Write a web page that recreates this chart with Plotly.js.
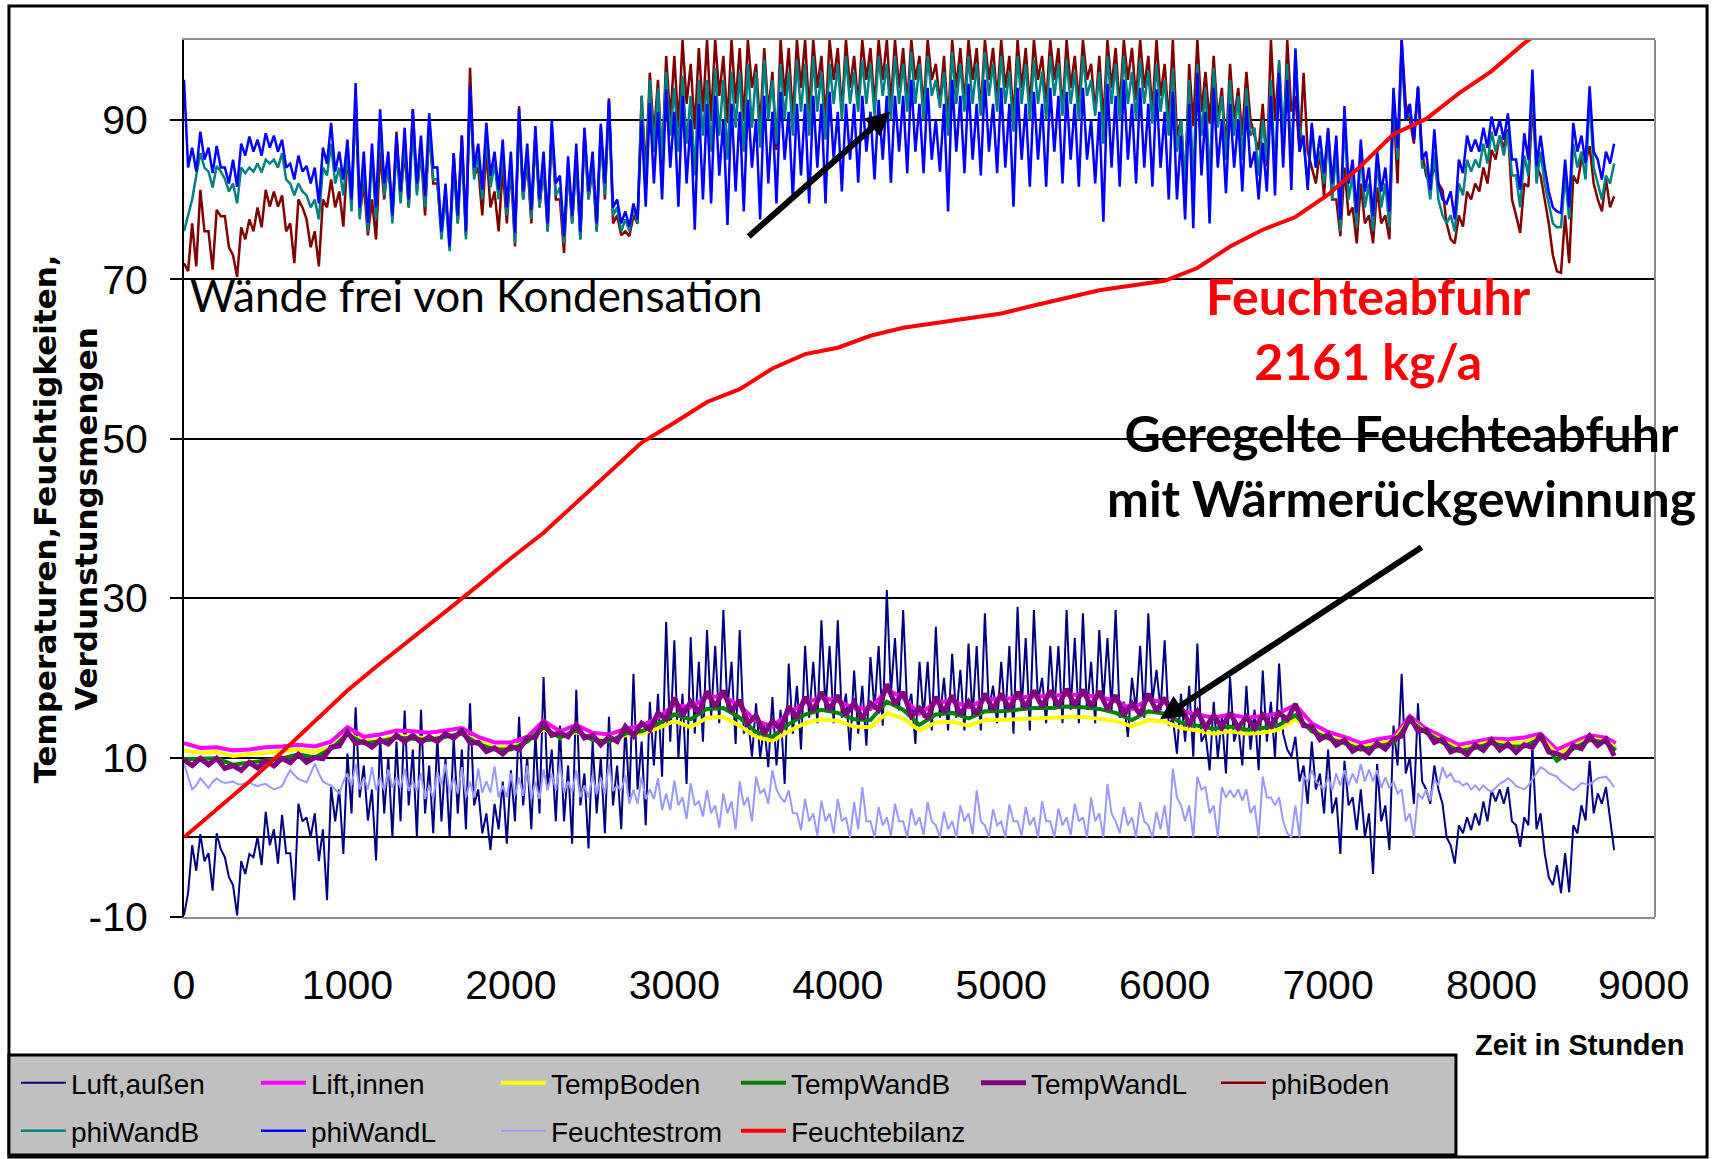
<!DOCTYPE html>
<html><head><meta charset="utf-8">
<script src="https://cdn.plot.ly/plotly-3.0.1.min.js"></script>
<style>html,body{margin:0;padding:0;background:#fff}#chart{width:1713px;height:1159px}</style>
</head><body><div id="chart"></div>
<script>
// ---- Data ----
// 25 h sampling (0 ... 8750): noisy series, alternating upper / lower readings
const luftAussen = [
-9.8,-7,-1,-4.2,0.4,-3,-2,-6.7,0.5,-1.5,-2.5,-5,-6,-9.8,-3,-4.6,-2.1,-2.5,0,-3.5,3.2,-1,1,-3.3,2.8,-2,-2,-7.9,4.2,2,2.5,0,3,-3,1,-7.9,6.3,2,6,-2.1,
10.5,3,16.3,5,9,2.1,6,-2.9,12.6,3,10,0,12,2,15.9,4,11,0,16,3,9,0.5,12.6,2,10,0,12.5,3,11,1,16.8,4,6,0.5,3,-1.6,4.2,1,7,-0.8,
8.4,2,15.1,4,10,1,13,3,20.1,6,11,2,14,2,9,-0.8,18.5,4,8,-1.4,12,3,10,0.5,15.1,4,9,1,14,5,20.5,6,12,1.5,17,9,18,7.6,27,12,
24.7,10,18,6.7,25.1,13,22,12,26,15,24,14.3,28.5,16,22,11.7,26,13,15,10.1,16.8,10,14,8.8,17.6,9,16,6.7,21.8,13,19,11,24,15,22,14.3,27.2,16,24,14.3,
27.2,15,18,10.9,20.9,13,19,11.5,22.6,16,24,14,31,18,25,15.9,28.5,16,18,11.7,22,15,22,13.4,26.4,15,20,13.4,23,15,21,13.4,24.3,15,24,13.4,28.1,16,19,14.3,
22,15,24,13,28.9,16,25,13.4,28.5,17,20,14.3,24,16,24,14.3,28.5,16,25,14.3,28.1,16,22,14.3,26,17,25,15.9,28.5,15,17,12.6,20,16,24,15,28.1,17,21,15.9,
24.7,14,15,10.5,18,12,19,10.1,24.3,12,13,8.4,17,10,15,8,20.1,12,14,9,19,11,16,8.4,20.9,12,17,10,21.8,13,11,10.1,12.6,7,9,4.2,12,6,8,3,
11,3,5,-2.1,9.6,4,5,0.9,6,0,3,-4.6,9.2,2,4,-1.6,14,9,20.5,8,10,4.2,16.8,7,6,4.2,9,6,4.2,0,-1,-3.3,1.5,0.5,2.5,0.9,3,1.5,4.5,2,
5.9,4.5,6,4.2,6.3,2,1.5,-1.2,2.5,1.5,11.3,1,3,-2,-5,-6,-3.5,-7,-2,-6.9,1.5,0.5,4,2.1,9.6,3,5.5,4.2,6.3,2,-1.6];

const phiBoden = [
72,71,77,71.6,81.2,76,76,71.2,78.7,77.9,77.9,74,73,70.3,76.5,75,77.5,76,79,76.5,81.2,79.1,81,79.1,80.5,76,77,72,80,79,77.5,74,76,71.6,80,79,82.5,79,81,76.6,
85.4,80,92,78,82,75.5,80,75,86,80,85,78,88.5,80,86,79,91.3,81,86,78,88.8,82,82,76,80,75,85.8,77,88,75.5,96.5,83,84,78,86.2,79,81,76,84,77,
84,74.1,91.7,80,85,77,88,79,84,76,89,80,80,73.3,84,77,85,75,88.5,80,84,76,89,80,92.7,77,78,75.5,76,75.4,78,77,93,83.3,95.9,88,95,84,98,90,
98,89,100,92,97,88.8,99,91,100,90,100,93,98,89.6,100,92,99,90,100,94,97,89,99,91,96,86.2,100,93,99,90,100,94,100,91,100,94,98,90,100,95,
99,91,100,94,98,92,100,95,99,91.7,100,95,100,92,100,94,99,92,100,95,98,91.5,100,95,97,92,98,89.6,100,94,99,92,100,95,99,91,100,95,99,92.5,
100,94,98,90,100,94,99,91.5,100,95,98,92,100,95,99,91,100,94,98,92,100,95,97,91,98,89.6,100,94,99,91.5,100,95,99,92.5,100,94,98,91,100,93,
97,89.6,100,88,90,81.2,97,89.2,100,91,96,89.5,98,90,94,86.2,97,90,94,88,96,90,88,86.2,92,84.2,100,90,97,85.4,100,91,93,86,95.9,86,84,82,86,80.4,
89,80,80,75.4,84,78,79,74.5,82,77,78,74.5,81.5,77,78,75,92,82,100,92,90,87,94,86,83,82,84.2,82,81.2,77,75,74.5,78,76.6,81,80,82,81,84,82,
86.2,85,88,86.5,88.8,80,78,75.8,82,81.6,92,84.2,83,80,77,73,71,70.8,78,72,83,82,85,84.6,86.7,82,80,78.5,82.5,79,80.4];

const phiWandB = [
76,78,80,83,85.8,84,83.5,81.5,84.2,83.5,82.6,81,82,79.5,84,83.3,84,83.5,84.5,83.4,85,84.5,85,84,85.8,82.5,82,80.5,82,81,80.5,79,80,77.5,84,83,87,82,84,80.5,
86,78.5,93,77.5,84.5,76,85.5,77.5,89.5,80.5,84.5,77,86.5,79.5,87.5,79,89.5,80.5,86.5,79,89,82.5,82.5,75,80.5,73.5,84,77,86.5,75,93.5,82.5,85.5,80,88,81.5,84.5,80,86,78,
84.5,74.5,90,80,85.5,77.5,88,79,84.5,76,89,80.5,81.5,74.5,84,77,85.5,75,88,80,84.5,76,88.5,80.5,92,78,79,76,77.5,76,79,77,93,81,95,86,94,85,96,88,
94,86,95.5,87,93,83,95,88,95,86,96.5,88,95,85,96,89,96,86,97,89,96,86.5,97.5,90,95,87,97,90,96,88,97.5,91,97,88,98,91,96,87.5,97,92,
97,90,98,92,96,91,97.5,92,97,90.5,98,93,97,90,98,92,97,91,98.5,92,97,90,98,93,95,91.5,96,88,98.5,92,97,91,98,92,97,90.5,98.5,93,97,91,
98,92,96,88.5,98,92,97,90,97.5,92,96,90,98,93,97,90.5,97.5,92,96,90,98,93,95,90.5,96,87,98,92,97,90,98,92,96,90,97.5,92,96,89.5,97,91,
95,88,96.5,86,90,82,95,82,97,88,94,82,96.5,89,93,85,95,88,93,85,94,88,89,83,90,85,95,83,97.5,88,97,84,99,89,87,82,89,84,86,82,
88,80,86,76,90,80,83,76.5,86,79,82,76,85,79,82,76.5,93,85,98.5,90,91,88,94,84,84,80,86,80,78,77,78,76,82,80.5,85,83.5,85,84,87,84.5,
88.5,86,88,85.5,88.5,83,83,79,85.5,83,95,82,86,82,79.5,77,76.5,76.5,83,77.5,87,84,86,82.5,92.5,84,82,80,83,82,84.5];

const phiWandL = [
95,84,86.5,83.5,88.5,85,86.5,83.3,86.7,84,84,82,85,81.6,87,85.5,87.9,86,87.5,85.5,88.3,86.5,88,86,87.5,84,84.5,82.5,85.5,83.5,84.2,82,84,79.5,86.5,84.5,89.6,83.5,86,82.5,
87.5,80,94.6,79,86,77.1,87,79,91.3,82,86,78,88,81,89,80,91.3,82,88,80.4,90.8,84,84,76,82,74.1,85.8,78,88,76,94.2,84,87,81.2,89.6,83,86,81.2,87.5,79,
86,75.8,91.3,81,87,78.7,89.2,80,86,77,90,82,83,75.4,85.4,78,87,76,89,81,86,77,89.5,82,92.5,79,80,77,78.5,76.6,79.5,77.5,90,79.1,92.1,82,91,80,93.8,84,
91,79.1,93,82,90,76.2,92,80,92,79.5,93,83,90,76.8,92,81,91,78.5,92.5,84,90,77.5,93,82,91,79.5,93.5,85,91,80,92,83,92,79.5,93,84,92,79.5,93.5,85,
91,81,92,85,92,82.1,93,86,91,82.5,92.5,85,93,82.1,93,86,93,83.3,95,86,92,83.3,94,85,90,83.5,92,78.5,95,86,93,83.3,94.5,85,92,83,95,86,92,83.3,
94,84,92,79.1,94,85,92,81.6,93.5,85,92,81.6,94,86,93,82,93.5,85,92,81.6,94,85,90,82,91,77.2,94.5,84,93,81.6,95,85,92,82,94,84,92,81.6,93.8,84,
91,80,93.5,80,88,77.5,92,76.4,95.9,83,91,77,94,84,90,80.8,92,84,90,81,91.7,84,86,80,87.1,81,93,80.5,95.9,84,95,81.2,98.8,86,88,81.2,89.6,84,88,83.3,
88.8,82,88,77.5,91.7,82,85,78.3,87.5,81,84,77.9,86.2,81,84,78.5,94,86.5,100,90,92,87.5,94.2,85,86,81.2,88.8,82,80,79.5,81,77.5,85,83.3,88,86,87.5,86,89,86.5,
90.4,88,90,87.5,90.8,85,85,81.2,88.3,85,96.3,84.2,88,84,81,79,78.5,78.3,85,79,89.6,86,88,84.6,94.2,86,85,82.5,86,84.5,87];

const feuchtestrom = [
9.2,7.5,6.0,6.5,7.4,6.8,6.2,6.9,7.4,7.0,6.8,6.9,7.0,6.7,6.6,6.8,6.9,6.6,6.4,6.6,6.7,6.3,6.0,6.2,6.4,7.5,8.4,7.8,7.3,7.1,6.9,8.0,9.2,8.0,7.0,6.7,6.5,6.0,5.5,7.0,
8,6.5,9.2,6,7.5,6,8.8,5.9,7.5,5.9,8.5,6.2,7.5,6.2,8.6,5.8,7,5.8,8,4.8,6.5,4.8,8.2,6.5,9.2,5.5,7.5,5.5,8.8,5,7,5,8.6,5.6,7,5.6,8.9,5,6.5,5,
8,5.2,7.5,5.2,9,4.8,7,4.8,8.5,5.9,8,5.9,9.2,5.6,7,5.6,8.4,5,6.5,5,7.8,5.4,7.5,5.4,9.2,5.8,6.5,5.8,7.8,4.2,6,4.2,7.6,4.8,6,4.8,7.4,3.4,5.5,3.4,
7.1,4,5,2.3,6.8,4,4.5,2.6,5.9,3,4,1.2,5.5,3,4.5,1,7,4,5,2,7.6,5.5,6,4.2,8.4,6,5,4.4,5.9,3,3,0.9,4.8,2,3,0.2,4.6,2,3,0.5,
4.8,2,2.5,0,4.4,1,6.3,2,2,0,3.8,1.5,2.5,0.2,4.2,2,2,0,3.6,1.5,2.5,0.3,4.4,2,1.5,0,3.2,1,2,0,4,2,3,0.4,5.9,2,1.5,0,3.5,1.5,
2,0,4.1,2,2,0.2,3.8,1.5,2.5,0,4.5,2,2,0,3.6,1.5,2.5,0.3,4.2,2,2.5,0,5,2,3,0,6.7,3,2,0.5,3.8,1.5,2.5,0,4.4,2,1.5,0,3.2,1,
4,0,8.6,5,4,2,4,0,7.6,6,6.3,3,4,0,6.3,5,5.9,5,6,4.6,6,3,4,0,7.6,5,5,4,5,2,0.5,0,4,0,7.6,7,8.4,7,6.5,6,
7.5,5.9,8,6.5,8.4,6.5,8,6.8,9.2,7,8.5,7,8.4,6.2,7.5,6.2,7,5.5,6,2,3,0,5.5,4.8,6,4.6,7.2,6.5,8.8,7.5,8,7,7,6.5,6.8,6,6.5,5.9,6.5,6,
5.7,6.2,6.7,7,7.4,7,6.4,6.2,6.0,6.5,7.2,8,8.8,8.5,8.0,7.8,7.6,7,6.6,6.2,5.9,6.3,6.8,6.7,6.6,7,7.4,7.5,7.6,7,6.3];

// 50 h sampling (0 ... 8750): upper / lower edge of the TempWandL band
const tempWandL = [
9.7,9.0,9.9,9.1,9.9,8.65,9.0,8.4,9.4,8.7,9.6,8.95,9.9,9.35,10.4,9.4,10.0,9.85,11.3,11.45,
13.2,11.8,12.0,11.3,12.2,11.7,12.8,12.0,12.8,11.9,12.6,12.0,13.0,12.4,13.4,11.85,11.9,10.75,11.2,10.45,
11.4,11.0,12.5,12.5,14.5,12.8,13.1,12.6,14.1,12.45,12.8,11.6,12.6,12.0,13.9,12.7,14.3,13.5,15.6,14.8,
17.5,15.25,17.0,15.65,18.3,16.35,18.4,15.8,17.2,14.25,15.3,12.95,14.6,13.5,16.4,15.0,17.6,15.9,18.2,16.0,
17.8,15.35,16.9,14.85,16.8,16.0,19.2,16.7,18.2,15.2,16.2,14.9,17.6,15.7,17.8,15.4,17.0,15.5,18.0,16.0,
18.0,16.1,18.2,16.3,18.4,16.4,18.4,16.5,18.6,16.55,18.5,16.4,18.3,16.05,17.8,15.3,16.8,15.4,18.0,15.8,
17.5,15.1,16.3,14.25,15.8,13.75,15.3,13.8,15.6,13.75,15.1,13.7,15.3,14.0,15.6,14.75,16.7,14.0,13.9,12.25,
12.9,11.55,12.2,10.8,11.4,10.6,11.8,11.05,12.3,12.7,15.1,13.3,13.5,11.9,12.3,10.7,11.1,10.35,11.6,10.9,
12.2,10.95,11.7,10.65,11.6,11.25,12.9,10.7,10.5,10.0,11.5,11.1,12.7,11.5,12.3,10.2];

// 100 h sampling (0 ... 8700, last value = hour 8760)
const liftInnen = [
11.8,11.2,11.3,10.9,11.0,11.3,11.4,11.6,11.4,12.0,
13.8,12.6,12.9,13.4,13.3,13.1,13.4,13.7,12.6,11.9,
11.9,12.6,14.6,13.3,14.1,13.1,12.9,13.6,14.0,15.0,
16.6,16.3,17.6,17.7,16.5,14.6,13.9,15.6,16.9,17.5,
17.1,16.2,16.1,18.5,17.5,15.5,16.9,17.1,16.3,17.3,
17.3,17.5,17.7,17.7,17.9,17.8,17.6,17.1,16.1,17.3,
16.9,15.8,15.4,15.0,15.4,15.0,15.2,15.6,16.6,14.3,
13.2,12.6,11.8,12.3,12.6,15.2,13.6,12.6,11.6,12.0,
12.4,12.3,12.5,13.0,11.0,11.9,12.8,12.5,11.8];

const tempBoden = [
10.9,10.6,10.7,10.2,10.4,10.6,10.8,11.0,10.7,11.3,
13.0,12.0,12.2,12.7,12.6,12.4,12.7,13.0,12.0,11.3,
11.3,12.0,13.6,12.5,13.2,12.3,12.2,12.8,13.0,13.7,
14.6,13.8,15.0,15.1,14.0,12.6,12.1,13.3,14.3,14.8,
14.6,13.9,13.8,15.6,14.9,13.4,14.4,14.5,14.0,14.7,
14.7,14.8,15.0,15.0,15.1,15.1,14.9,14.6,13.9,14.7,
14.5,13.7,13.4,13.0,13.3,13.0,13.1,13.5,14.8,13.5,
12.6,12.1,11.3,11.7,12.1,14.8,13.2,12.1,11.1,11.5,
12.0,11.8,11.9,12.6,10.4,11.4,12.4,12.1,11.2];

const tempWandB = [
9.8,9.9,9.9,9.1,9.4,9.6,9.9,10.4,10.0,11.1,
12.9,11.8,12.0,12.5,12.4,12.2,12.6,13.0,11.7,11.0,
11.0,12.0,13.8,12.5,13.4,12.2,12.0,13.0,13.3,14.2,
15.4,14.8,16.1,16.2,15.0,13.2,12.6,14.2,15.4,16.0,
15.6,14.8,14.7,17.0,16.0,14.1,15.4,15.6,14.9,15.8,
15.8,16.0,16.2,16.2,16.4,16.3,16.1,15.6,14.7,15.8,
15.5,14.4,14.0,13.6,13.9,13.5,13.7,14.1,15.3,13.3,
12.4,11.8,11.0,11.4,11.8,14.6,13.1,11.9,10.8,11.2,
11.8,11.4,11.4,12.4,9.6,11.1,12.2,11.9,10.9];

// 200 h sampling (0 ... 8600)
const feuchtebilanz = [0,3.5,7,10.7,14.5,18.4,21.8,25,28.3,31.6,35,38.2,42,45.7,49.5,52,54.6,56.2,58.8,60.6,
61.4,62.9,63.9,64.5,65.1,65.7,66.7,67.7,68.6,69.2,69.8,71.4,74.1,76.2,77.8,80.6,84.2,88.2,90.1,93.3,96.1,99.6,102.5,105.5];

const seriesNames = ['Luft,außen','Lift,innen','TempBoden','TempWandB','TempWandL','phiBoden','phiWandB','phiWandL','Feuchtestrom','Feuchtebilanz'];
const xTicks = [0,1000,2000,3000,4000,5000,6000,7000,8000,9000];
const xTickText = ['0','1000','2000','3000','4000','5000','6000','7000','8000','9000\u00a0\u00a0'];
const yTicks = [-10,10,30,50,70,90];

// ---- Build ----
const h25 = luftAussen.map((_, i) => i * 25);
const h50 = tempWandL.map((_, i) => i * 50);
const h100 = liftInnen.map((_, i) => Math.min(i * 100, 8760));
const h200 = feuchtebilanz.map((_, i) => i * 200);

function tr(name, x, y, color, width, legend) {
  return {type:'scatter', mode:'lines', name:name, x:x, y:y,
    line:{color:color, width:width}, legend:legend, hoverinfo:'skip'};
}
const data = [
  tr(seriesNames[0], h25, luftAussen, '#000080', 2, 'legend'),
  tr(seriesNames[1], h100, liftInnen, '#ff00ff', 4, 'legend'),
  tr(seriesNames[2], h100, tempBoden, '#ffff00', 4, 'legend'),
  tr(seriesNames[3], h100, tempWandB, '#008000', 4, 'legend'),
  tr(seriesNames[4], h50, tempWandL, '#800080', 5, 'legend'),
  tr(seriesNames[5], h25, phiBoden, '#800000', 2.5, 'legend'),
  tr(seriesNames[6], h25, phiWandB, '#008080', 2.5, 'legend2'),
  tr(seriesNames[7], h25, phiWandL, '#0000ff', 2.5, 'legend2'),
  tr(seriesNames[8], h25, feuchtestrom, '#9999ff', 2, 'legend2'),
  tr(seriesNames[9], h200, feuchtebilanz, '#ff0000', 4, 'legend2')
];

const tickFont = {family:'Liberation Sans, Arial, sans-serif', size:41, color:'#000'};
const legFont = {family:'Liberation Sans, Arial, sans-serif', size:28, color:'#000'};
const legBase = {orientation:'h', xref:'container', yref:'container', xanchor:'left', yanchor:'middle',
  bgcolor:'rgba(0,0,0,0)', borderwidth:0, font:legFont, entrywidth:180, itemwidth:45, traceorder:'normal'};

const layout = {
  width:1713, height:1159,
  margin:{l:184, r:58, t:40, b:242},
  paper_bgcolor:'#ffffff', plot_bgcolor:'#ffffff',
  showlegend:true,
  legend: Object.assign({}, legBase, {x:0.0093, y:(1159-1083)/1159}),
  legend2: Object.assign({}, legBase, {x:0.0093, y:(1159-1131)/1159}),
  xaxis:{range:[0,9000], tickvals:xTicks, ticktext:xTickText, tickfont:tickFont,
    showgrid:false, zeroline:false, showline:true, linecolor:'#8c8c8c', linewidth:2, mirror:true,
    ticks:'', ticklabelstandoff:31, ticklabeloverflow:'allow'},
  yaxis:{range:[-10,100], tickvals:yTicks, ticktext:yTicks.map(String), tickfont:tickFont,
    showgrid:true, gridcolor:'#000', gridwidth:2, zeroline:true, zerolinecolor:'#000', zerolinewidth:2,
    showline:true, linecolor:'#000', linewidth:2, ticks:'outside', ticklen:12, tickwidth:2, tickcolor:'#000',
    ticklabelstandoff:14},
  shapes:[
    {type:'line', xref:'paper', yref:'paper', x0:1, x1:1, y0:0, y1:1, line:{color:'#8c8c8c', width:2}},
    {type:'rect', xref:'paper', yref:'paper', x0:-0.119, x1:1.0354, y0:-0.2737, y1:1.0388, line:{color:'#000', width:3}, layer:'below'},
    {type:'rect', xref:'paper', yref:'paper', x0:-0.119, x1:0.8647, y0:-0.2714, y1:-0.1574, fillcolor:'#c0c0c0', line:{color:'#000', width:3}, layer:'above'}
  ],
  annotations:[
    {xref:'paper', yref:'paper', x:-0.0806, y:0.4538, xanchor:'center', yanchor:'middle', textangle:-90, showarrow:false,
     text:'Temperaturen,Feuchtigkeiten,<br>Verdunstungsmengen', align:'center',
     font:{family:'DejaVu Sans, sans-serif', size:31, color:'#000', weight:'bold'}},
    {xref:'paper', yref:'paper', x:0.949, y:-0.146, xanchor:'center', yanchor:'middle', showarrow:false, text:'<b>Zeit in Stunden</b>',
     font:{family:'Liberation Sans, Arial, sans-serif', size:29, color:'#000'}},
    {xref:'x', yref:'y', x:25, y:68.0, xanchor:'left', yanchor:'middle', showarrow:false,
     text:'Wände frei von Kondensation', font:{family:'Lato, sans-serif', size:44, color:'#000'}},
    {xref:'x', yref:'y', x:7245, y:63.8, xanchor:'center', yanchor:'middle', showarrow:false,
     text:'<b>Feuchteabfuhr<br>2161 kg/a</b>', font:{family:'Lato, sans-serif', size:50, color:'#ff0000'}},
    {xref:'x', yref:'y', x:7447, y:46.6, xanchor:'center', yanchor:'middle', showarrow:false,
     text:'<b>Geregelte Feuchteabfuhr<br>mit Wärmerückgewinnung</b>', font:{family:'Lato, sans-serif', size:50, color:'#000'}},
    {xref:'x', yref:'y', axref:'x', ayref:'y', x:4321, y:91.0, ax:3446, ay:75.2, text:'', showarrow:true,
     arrowhead:2, arrowsize:0.8, arrowwidth:6, arrowcolor:'#000', standoff:0},
    {xref:'x', yref:'y', axref:'x', ayref:'y', x:5972, y:14.8, ax:7581, ay:36.5, text:'', showarrow:true,
     arrowhead:2, arrowsize:0.8, arrowwidth:6, arrowcolor:'#000', standoff:0}
  ]
};

Plotly.newPlot('chart', data, layout, {displayModeBar:false, staticPlot:true});
</script></body></html>
